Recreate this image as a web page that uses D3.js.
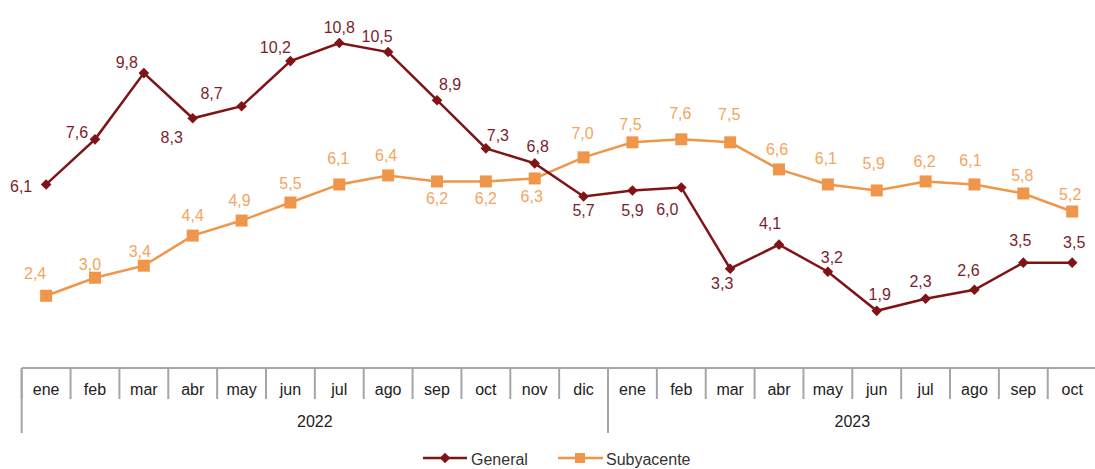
<!DOCTYPE html>
<html><head><meta charset="utf-8">
<script src="https://cdn.jsdelivr.net/npm/d3@7"></script>
<style>
html,body{margin:0;padding:0;background:#fff;}
svg{display:block;font-family:"Liberation Sans",Arial,sans-serif;}
</style></head>
<body><svg id="c" width="1095" height="469"></svg>
<script>
const months = ["ene","feb","mar","abr","may","jun","jul","ago","sep","oct","nov","dic",
                "ene","feb","mar","abr","may","jun","jul","ago","sep","oct"];
const years = ["2022","2023"];
const yearCounts = [12,10];
const general = [6.1,7.6,9.8,8.3,8.7,10.2,10.8,10.5,8.9,7.3,6.8,5.7,5.9,6.0,3.3,4.1,3.2,1.9,2.3,2.6,3.5,3.5];
const subyacente = [2.4,3.0,3.4,4.4,4.9,5.5,6.1,6.4,6.2,6.2,6.3,7.0,7.5,7.6,7.5,6.6,6.1,5.9,6.2,6.1,5.8,5.2];
const seriesNames = ["General","Subyacente"];

// label placement (layout only)
const genOff = [[-25,2],[-18,-7],[-17,-11],[-21,19],[-30,-13],[-15,-14],[0,-16],[-11,-16],[13,-16],[12,-13],[3,-17],[0,14],
                [0,20],[-14,22],[-8,15],[-9,-21],[4,-14],[3,-16],[-5,-17],[-6,-19],[-3,-22],[2,-20]];
const subOff = [[-11,-22],[-5,-13],[-4,-14],[0,-20],[-2,-20],[0,-19],[-1,-26],[-2,-20],[0,17],[0,17],[-3,18],[-1,-24],
                [-2,-18],[-1,-26],[-1,-28],[-2,-20],[-2,-26],[-3,-27],[-1,-20],[-4,-24],[-1,-18],[-2,-17]];

const svg = d3.select("#c");
const left = 21.7, right = 1096.6, axisY = 368;
const idx = d3.range(months.length);
const x = d3.scaleBand().domain(idx).range([left, right]).padding(0);
const y = d3.scaleLinear().domain([0, 12.23]).range([axisY, 0]);
const cx = i => x(i) + x.bandwidth()/2;
const fmt = v => d3.format(".1f")(v).replace(".", ",");

const cGen = "#7f1416", cGenTxt = "#7b1e2c";
const cSub = "#f0964a", cSubTxt = "#f4a560";
const grey = "#a6a6a6";
const fs = 16;

// axis table
const ax = svg.append("g");
ax.append("line").attr("x1", left).attr("x2", 1095).attr("y1", axisY).attr("y2", axisY)
  .attr("stroke", grey).attr("stroke-width", 2);
idx.forEach(i => {
  ax.append("line").attr("x1", x(i)).attr("x2", x(i)).attr("y1", axisY).attr("y2", 399)
    .attr("stroke", grey).attr("stroke-width", 2);
  ax.append("text").attr("x", cx(i)).attr("y", 395).attr("text-anchor","middle")
    .attr("font-size", fs).attr("fill", "#222").text(months[i]);
});
let start = 0;
years.forEach((yr, k) => {
  const x0 = x(start), x1 = start + yearCounts[k] < months.length ? x(start + yearCounts[k]) : right;
  ax.append("line").attr("x1", x0).attr("x2", x0).attr("y1", axisY).attr("y2", 433)
    .attr("stroke", grey).attr("stroke-width", 2);
  ax.append("text").attr("x", (x0 + x1)/2).attr("y", 427).attr("text-anchor","middle")
    .attr("font-size", fs).attr("fill", "#222").text(yr);
  start += yearCounts[k];
});

const line = d3.line().x((d,i) => cx(i)).y(d => y(d));

// Subyacente
svg.append("path").datum(subyacente).attr("d", line).attr("fill","none")
  .attr("stroke", cSub).attr("stroke-width", 2.5);
svg.append("g").selectAll("rect").data(subyacente).join("rect")
  .attr("x", (d,i) => cx(i) - 6).attr("y", d => y(d) - 6).attr("width", 12).attr("height", 12)
  .attr("fill", cSub);

// General
svg.append("path").datum(general).attr("d", line).attr("fill","none")
  .attr("stroke", cGen).attr("stroke-width", 2.5);
const diamond = d3.symbol().type(d3.symbolDiamond2).size(72);
svg.append("g").selectAll("path").data(general).join("path")
  .attr("d", diamond).attr("transform", (d,i) => `translate(${cx(i)},${y(d)})`)
  .attr("fill", cGen);

// labels
svg.append("g").selectAll("text").data(subyacente).join("text")
  .attr("x", (d,i) => cx(i) + subOff[i][0]).attr("y", (d,i) => y(d) + subOff[i][1])
  .attr("text-anchor","middle").attr("dominant-baseline","central")
  .attr("font-size", fs).attr("fill", cSubTxt).text(fmt);
svg.append("g").selectAll("text").data(general).join("text")
  .attr("x", (d,i) => cx(i) + genOff[i][0]).attr("y", (d,i) => y(d) + genOff[i][1])
  .attr("text-anchor","middle").attr("dominant-baseline","central")
  .attr("font-size", fs).attr("fill", cGenTxt).text(fmt);

// legend
const ly = 458;
const lg = svg.append("g");
lg.append("line").attr("x1", 423).attr("x2", 467).attr("y1", ly).attr("y2", ly).attr("stroke", cGen).attr("stroke-width", 2.5);
lg.append("path").attr("d", diamond).attr("transform", `translate(445,${ly})`).attr("fill", cGen);
lg.append("text").attr("x", 471).attr("y", ly + 1).attr("dominant-baseline","central").attr("font-size", 16).attr("fill","#333").text(seriesNames[0]);
lg.append("line").attr("x1", 558).attr("x2", 603).attr("y1", ly).attr("y2", ly).attr("stroke", cSub).attr("stroke-width", 2.5);
lg.append("rect").attr("x", 575).attr("y", ly - 5).attr("width", 10).attr("height", 10).attr("fill", cSub);
lg.append("text").attr("x", 606).attr("y", ly + 1).attr("dominant-baseline","central").attr("font-size", 16).attr("fill","#333").text(seriesNames[1]);
</script></body></html>
